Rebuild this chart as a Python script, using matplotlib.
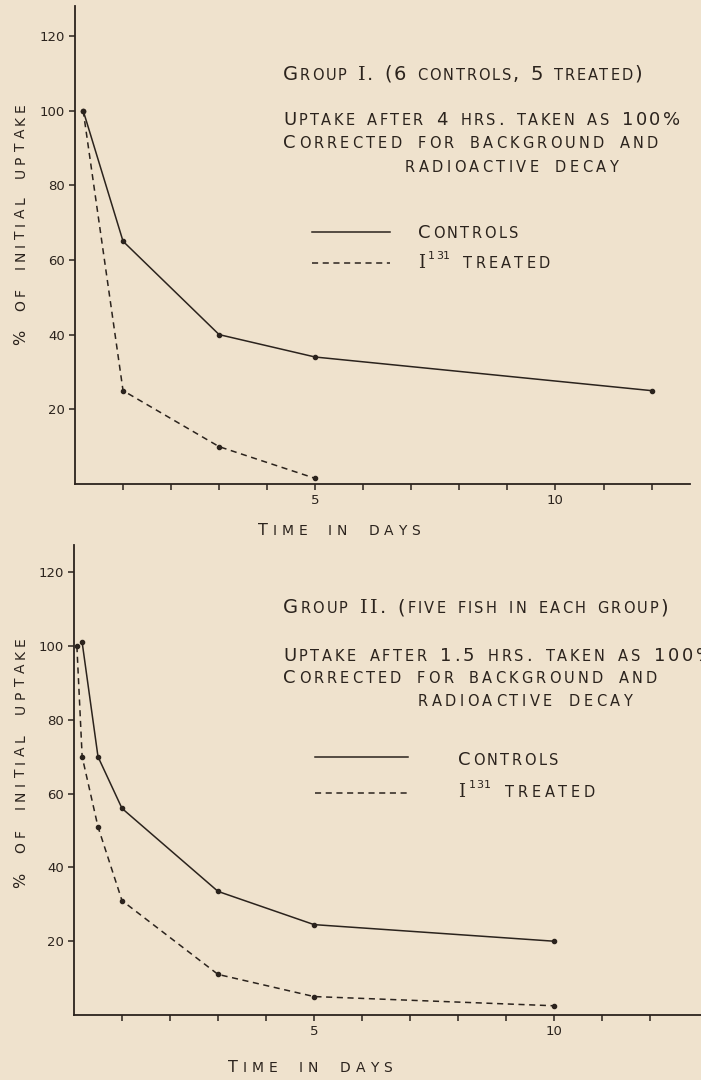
import matplotlib.pyplot as plt
from matplotlib.lines import Line2D

# ---- data ----
# group I (6 controls, 5 treated), uptake after 4 hrs = 100%
g1_ctrl_days = [0.17, 1, 3, 5, 12]
g1_ctrl_pct = [100, 65, 40, 34, 25]
g1_trt_days = [0.17, 1, 3, 5]
g1_trt_pct = [100, 25, 10, 1.5]

# group II (five fish in each group), uptake after 1.5 hrs = 100%
g2_ctrl_days = [0.17, 0.5, 1, 3, 5, 10]
g2_ctrl_pct = [101, 70, 56, 33.5, 24.5, 20]
g2_trt_days = [0.06, 0.17, 0.5, 1, 3, 5, 10]
g2_trt_pct = [100, 70, 51, 31, 11, 5, 2.5]

y_ticks = [20, 40, 60, 80, 100, 120]
x_ticks = list(range(1, 13))
x_ticklabels = {5: "5", 10: "10"}

BG = "#efe2cd"
INK = "#2b231d"
W, H = 701, 1080

fig = plt.figure(figsize=(W / 100, H / 100), dpi=100)
fig.patch.set_facecolor(BG)


def fx(x):
    return x / W


def fy(y):
    return 1 - y / H


def caps(x, y, s, big, small, width=None, rot=False):
    # hand-lettered small caps: upper case -> big, lower case -> small caps,
    # ^...^ superscript, ~ before a char -> serif glyph.
    # extra width is shared between letter gaps and (more) word gaps
    renderer = fig.canvas.get_renderer()
    pieces = []
    sup = False
    serif = False
    for ch in s:
        if ch == "^":
            sup = not sup
            continue
        if ch == "~":
            serif = True
            continue
        if ch == " ":
            pieces.append([None, small * 0.32 * 100 / 72, 0, 2.5])
            continue
        if sup:
            size, rise, wt = small * 0.75, big * 0.5 * 100 / 72, 0.15
        elif ch.islower():
            size, rise, wt = small, 0, 1.0
        else:
            size, rise, wt = big, 0, 1.0
        fam = "DejaVu Serif" if serif else "DejaVu Sans"
        serif = False
        t = fig.text(0, 0, ch.upper(), fontsize=size, family=fam, color=INK,
                     ha="left", va="baseline")
        w = t.get_window_extent(renderer).width
        pieces.append([t, w, rise, wt])
    natural = sum(p[1] for p in pieces)
    unit = 1.0
    if width is not None and len(pieces) > 1:
        unit = (width - natural) / sum(p[3] for p in pieces[:-1])
    cur = y if rot else x
    for t, w, rise, wt in pieces:
        if t is not None:
            if rot:
                t.set_rotation(90)
                t.set_rotation_mode("anchor")
                t.set_position((fx(x - rise), fy(cur)))
            else:
                t.set_position((fx(cur), fy(y - rise)))
        step = w + unit * wt
        cur = cur - step if rot else cur + step


def style_axes(ax, xmax, ymax):
    ax.set_facecolor("none")
    ax.set_xlim(0, xmax)
    ax.set_ylim(0, ymax)
    for side in ["top", "right"]:
        ax.spines[side].set_visible(False)
    for side in ["left", "bottom"]:
        ax.spines[side].set_color(INK)
        ax.spines[side].set_linewidth(1.3)
    ax.set_yticks(y_ticks)
    ax.set_yticklabels([str(v) for v in y_ticks])
    ax.set_xticks(x_ticks)
    ax.set_xticklabels([x_ticklabels.get(v, "") for v in x_ticks])
    ax.tick_params(direction="out", length=4, width=1.1, colors=INK,
                   labelsize=9.5, pad=3)


def series(ax, days, pct, dashed):
    ls = (0, (4, 3)) if dashed else "-"
    ax.plot(days, pct, linestyle=ls, color=INK, lw=1.1, marker="o",
            markersize=3, clip_on=False)


def legend_lines(x0, x1, y_solid, y_dash):
    fig.add_artist(Line2D([fx(x0), fx(x1)], [fy(y_solid)] * 2, color=INK,
                          lw=1.1, transform=fig.transFigure))
    fig.add_artist(Line2D([fx(x0), fx(x1)], [fy(y_dash)] * 2, color=INK,
                          lw=1.1, linestyle=(0, (4, 3)),
                          transform=fig.transFigure))


# ---- top panel ----
ax1 = fig.add_axes([fx(75), fy(484), (690 - 75) / W, (484 - 6) / H])
style_axes(ax1, 12.8, 128)
series(ax1, g1_ctrl_days, g1_ctrl_pct, False)
series(ax1, g1_trt_days, g1_trt_pct, True)

caps(283, 80, "Group ~I. (6 controls, 5 treated)", 14, 10.5, width=359)
caps(283, 125, "Uptake after 4 hrs. taken as 100%", 13, 10.5, width=397)
caps(283, 148, "Corrected for background and", 13, 10.5, width=375)
caps(405, 172, "radioactive decay", 13, 10.5, width=213)
legend_lines(312, 390, 232, 263)
caps(418, 238, "Controls", 13, 10.5, width=100)
caps(418, 268, "~I^131^ treated", 13, 10.5, width=132)
caps(258, 535, "Time in days", 11.5, 10, width=162)
caps(25, 345, "% of initial uptake", 11.5, 10, width=242, rot=True)

# ---- bottom panel ----
ax2 = fig.add_axes([fx(74), fy(1015), (701 - 74) / W, (1015 - 545) / H])
style_axes(ax2, 13.06, 127.4)
series(ax2, g2_ctrl_days, g2_ctrl_pct, False)
series(ax2, g2_trt_days, g2_trt_pct, True)

caps(283, 613, "Group ~I~I. (five fish in each group)", 14, 10.5, width=385)
caps(283, 661, "Uptake after 1.5 hrs. taken as 100%", 13, 10.5, width=430)
caps(283, 683, "Corrected for background and", 13, 10.5, width=374)
caps(418, 706, "radioactive decay", 13, 10.5, width=214)
legend_lines(315, 408, 757, 793)
caps(458, 765, "Controls", 13, 10.5, width=100)
caps(458, 797, "~I^131^ treated", 13, 10.5, width=137)
caps(228, 1072, "Time in days", 11.5, 10, width=164)
caps(25, 888, "% of initial uptake", 11.5, 10, width=251, rot=True)

fig.savefig("out.png", dpi=100, facecolor=BG)
